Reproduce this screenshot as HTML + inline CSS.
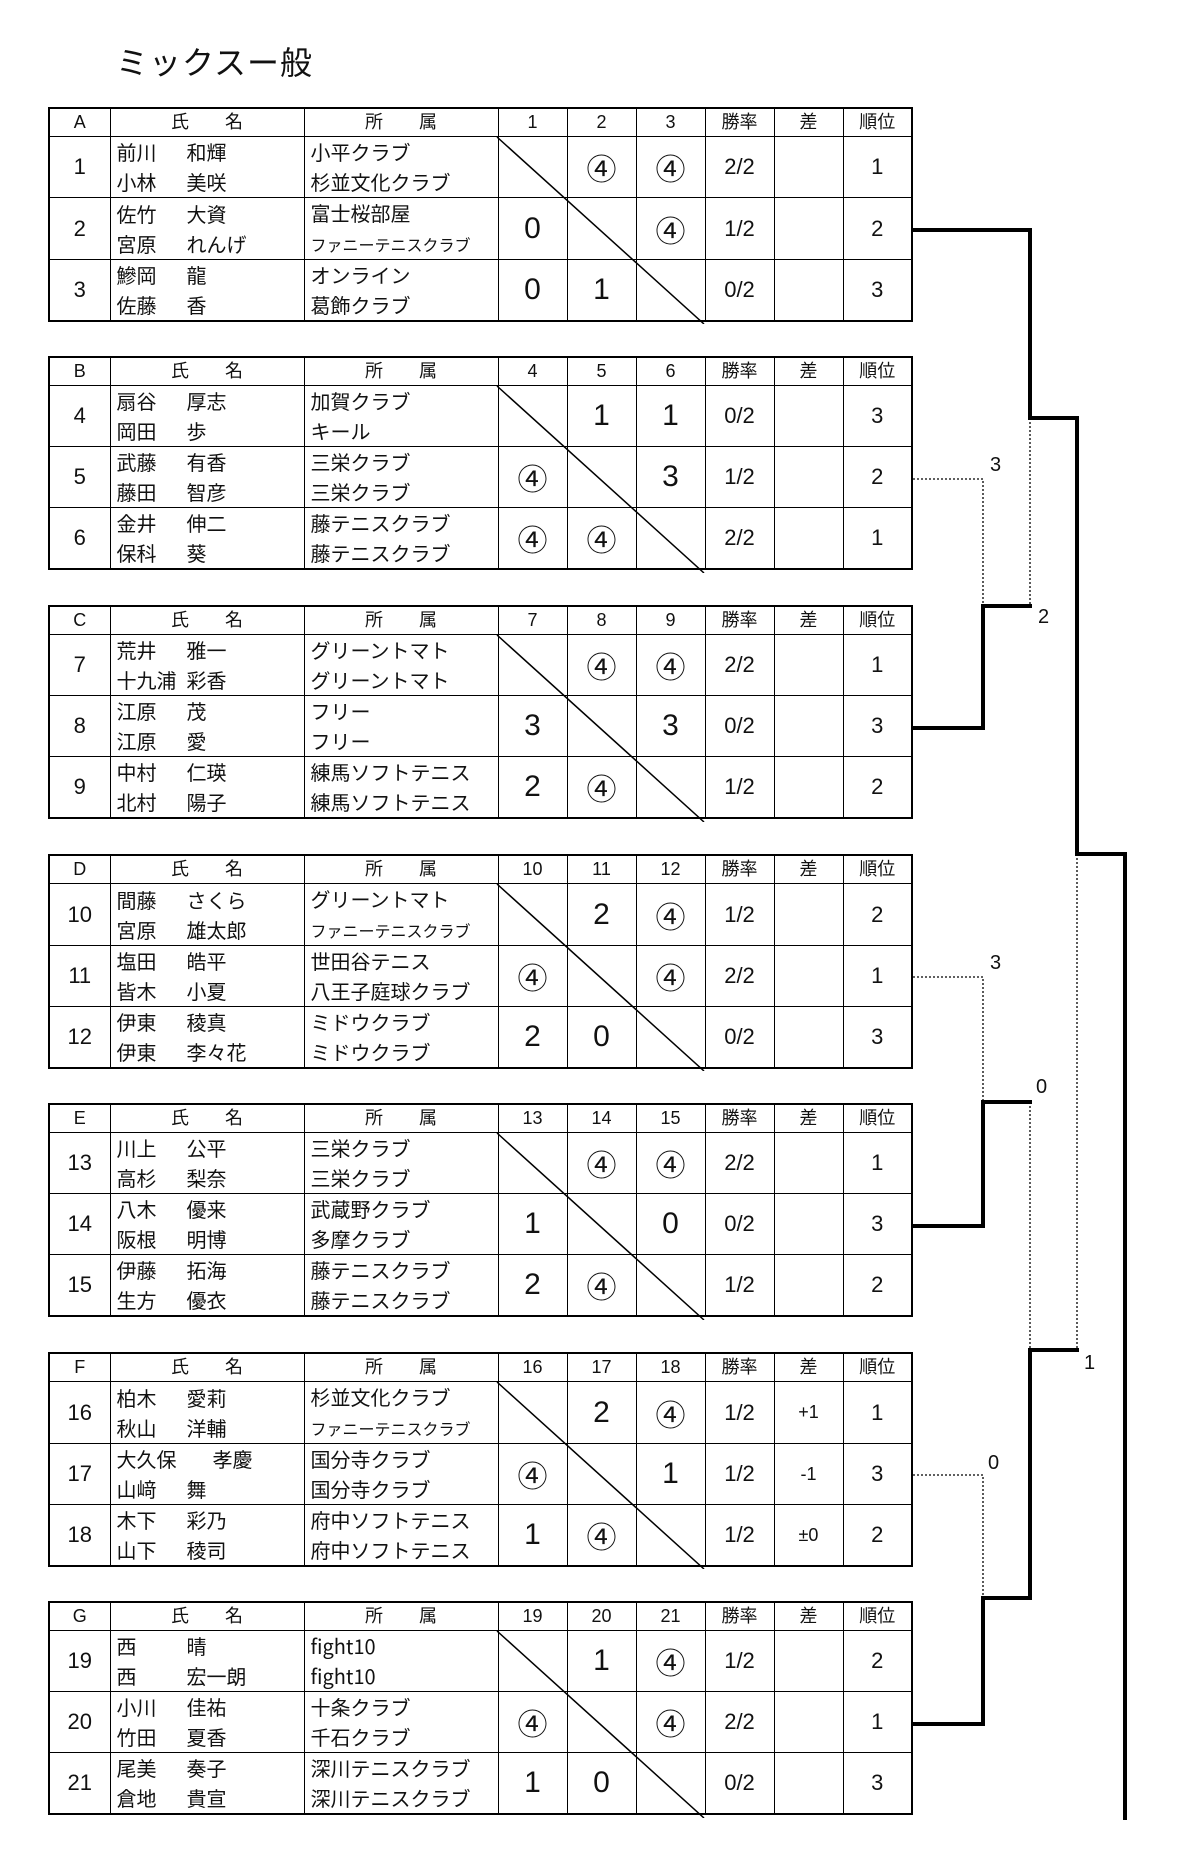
<!DOCTYPE html>
<html><head><meta charset="utf-8">
<style>
body{margin:0;background:#fff;width:1200px;height:1872px;position:relative;overflow:hidden;font-family:"Liberation Sans","Noto Sans CJK JP",sans-serif;color:#111}
.title{position:absolute;left:116px;top:38px;font-size:32px;letter-spacing:1px;font-family:"Noto Sans CJK JP",sans-serif}
.tb{position:absolute;left:48px;width:763px;height:217px}
table{border-collapse:collapse;table-layout:fixed;width:763px;border:2px solid #000}
td{border:1.5px solid #000;padding:0;text-align:center;font-size:22px;font-family:"Liberation Sans","Noto Sans CJK JP",sans-serif;overflow:hidden;white-space:nowrap}
tr.h td{height:27px;font-size:18px;line-height:27px}
tr.r td{height:58px}
td.n{text-align:left;padding-left:6px;line-height:30px;font-size:20px;font-family:"Noto Sans CJK JP",sans-serif}
td.n span{display:inline-block;min-width:70px}
td.a{text-align:left;padding-left:6px;line-height:30px;font-size:20px;font-family:"Noto Sans CJK JP",sans-serif}
.sm{font-size:16px}
.c{font-size:30px;font-family:"Noto Sans CJK JP",sans-serif;line-height:30px}
.d{font-size:30px}
.tb svg{position:absolute;left:0;top:0}
.lbl{position:absolute;font-size:20px}
</style></head><body>
<div class="title">ミックスー般</div>

<!-- A -->
<div class="tb" style="top:107px"><table>
<colgroup><col style="width:61px"><col style="width:194px"><col style="width:194px"><col style="width:69px"><col style="width:69px"><col style="width:69px"><col style="width:69px"><col style="width:69px"><col style="width:69px"></colgroup>
<tr class="h"><td>A</td><td>氏　　名</td><td>所　　属</td><td>1</td><td>2</td><td>3</td><td>勝率</td><td>差</td><td>順位</td></tr>
<tr class="r"><td>1</td><td class="n"><span>前川</span>和輝<br><span>小林</span>美咲</td><td class="a">小平クラブ<br>杉並文化クラブ</td><td></td><td class="c">④</td><td class="c">④</td><td>2/2</td><td></td><td>1</td></tr>
<tr class="r"><td>2</td><td class="n"><span>佐竹</span>大資<br><span>宮原</span>れんげ</td><td class="a">富士桜部屋<br><span class="sm">ファニーテニスクラブ</span></td><td class="d">0</td><td></td><td class="c">④</td><td>1/2</td><td></td><td>2</td></tr>
<tr class="r"><td>3</td><td class="n"><span>鰺岡</span>龍<br><span>佐藤</span>香</td><td class="a">オンライン<br>葛飾クラブ</td><td class="d">0</td><td class="d">1</td><td></td><td>0/2</td><td></td><td>3</td></tr>
</table><svg width="763" height="217"><line x1="449" y1="30" x2="656" y2="217" stroke="#000" stroke-width="1.5"/></svg></div>

<!-- B -->
<div class="tb" style="top:356px"><table>
<colgroup><col style="width:61px"><col style="width:194px"><col style="width:194px"><col style="width:69px"><col style="width:69px"><col style="width:69px"><col style="width:69px"><col style="width:69px"><col style="width:69px"></colgroup>
<tr class="h"><td>B</td><td>氏　　名</td><td>所　　属</td><td>4</td><td>5</td><td>6</td><td>勝率</td><td>差</td><td>順位</td></tr>
<tr class="r"><td>4</td><td class="n"><span>扇谷</span>厚志<br><span>岡田</span>歩</td><td class="a">加賀クラブ<br>キール</td><td></td><td class="d">1</td><td class="d">1</td><td>0/2</td><td></td><td>3</td></tr>
<tr class="r"><td>5</td><td class="n"><span>武藤</span>有香<br><span>藤田</span>智彦</td><td class="a">三栄クラブ<br>三栄クラブ</td><td class="c">④</td><td></td><td class="d">3</td><td>1/2</td><td></td><td>2</td></tr>
<tr class="r"><td>6</td><td class="n"><span>金井</span>伸二<br><span>保科</span>葵</td><td class="a">藤テニスクラブ<br>藤テニスクラブ</td><td class="c">④</td><td class="c">④</td><td></td><td>2/2</td><td></td><td>1</td></tr>
</table><svg width="763" height="217"><line x1="449" y1="30" x2="656" y2="217" stroke="#000" stroke-width="1.5"/></svg></div>

<!-- C -->
<div class="tb" style="top:605px"><table>
<colgroup><col style="width:61px"><col style="width:194px"><col style="width:194px"><col style="width:69px"><col style="width:69px"><col style="width:69px"><col style="width:69px"><col style="width:69px"><col style="width:69px"></colgroup>
<tr class="h"><td>C</td><td>氏　　名</td><td>所　　属</td><td>7</td><td>8</td><td>9</td><td>勝率</td><td>差</td><td>順位</td></tr>
<tr class="r"><td>7</td><td class="n"><span>荒井</span>雅一<br><span>十九浦</span>彩香</td><td class="a">グリーントマト<br>グリーントマト</td><td></td><td class="c">④</td><td class="c">④</td><td>2/2</td><td></td><td>1</td></tr>
<tr class="r"><td>8</td><td class="n"><span>江原</span>茂<br><span>江原</span>愛</td><td class="a">フリー<br>フリー</td><td class="d">3</td><td></td><td class="d">3</td><td>0/2</td><td></td><td>3</td></tr>
<tr class="r"><td>9</td><td class="n"><span>中村</span>仁瑛<br><span>北村</span>陽子</td><td class="a">練馬ソフトテニス<br>練馬ソフトテニス</td><td class="d">2</td><td class="c">④</td><td></td><td>1/2</td><td></td><td>2</td></tr>
</table><svg width="763" height="217"><line x1="449" y1="30" x2="656" y2="217" stroke="#000" stroke-width="1.5"/></svg></div>

<!-- D -->
<div class="tb" style="top:854px"><table>
<colgroup><col style="width:61px"><col style="width:194px"><col style="width:194px"><col style="width:69px"><col style="width:69px"><col style="width:69px"><col style="width:69px"><col style="width:69px"><col style="width:69px"></colgroup>
<tr class="h"><td>D</td><td>氏　　名</td><td>所　　属</td><td>10</td><td>11</td><td>12</td><td>勝率</td><td>差</td><td>順位</td></tr>
<tr class="r"><td>10</td><td class="n"><span>間藤</span>さくら<br><span>宮原</span>雄太郎</td><td class="a">グリーントマト<br><span class="sm">ファニーテニスクラブ</span></td><td></td><td class="d">2</td><td class="c">④</td><td>1/2</td><td></td><td>2</td></tr>
<tr class="r"><td>11</td><td class="n"><span>塩田</span>皓平<br><span>皆木</span>小夏</td><td class="a">世田谷テニス<br>八王子庭球クラブ</td><td class="c">④</td><td></td><td class="c">④</td><td>2/2</td><td></td><td>1</td></tr>
<tr class="r"><td>12</td><td class="n"><span>伊東</span>稜真<br><span>伊東</span>李々花</td><td class="a">ミドウクラブ<br>ミドウクラブ</td><td class="d">2</td><td class="d">0</td><td></td><td>0/2</td><td></td><td>3</td></tr>
</table><svg width="763" height="217"><line x1="449" y1="30" x2="656" y2="217" stroke="#000" stroke-width="1.5"/></svg></div>

<!-- E -->
<div class="tb" style="top:1103px"><table>
<colgroup><col style="width:61px"><col style="width:194px"><col style="width:194px"><col style="width:69px"><col style="width:69px"><col style="width:69px"><col style="width:69px"><col style="width:69px"><col style="width:69px"></colgroup>
<tr class="h"><td>E</td><td>氏　　名</td><td>所　　属</td><td>13</td><td>14</td><td>15</td><td>勝率</td><td>差</td><td>順位</td></tr>
<tr class="r"><td>13</td><td class="n"><span>川上</span>公平<br><span>高杉</span>梨奈</td><td class="a">三栄クラブ<br>三栄クラブ</td><td></td><td class="c">④</td><td class="c">④</td><td>2/2</td><td></td><td>1</td></tr>
<tr class="r"><td>14</td><td class="n"><span>八木</span>優来<br><span>阪根</span>明博</td><td class="a">武蔵野クラブ<br>多摩クラブ</td><td class="d">1</td><td></td><td class="d">0</td><td>0/2</td><td></td><td>3</td></tr>
<tr class="r"><td>15</td><td class="n"><span>伊藤</span>拓海<br><span>生方</span>優衣</td><td class="a">藤テニスクラブ<br>藤テニスクラブ</td><td class="d">2</td><td class="c">④</td><td></td><td>1/2</td><td></td><td>2</td></tr>
</table><svg width="763" height="217"><line x1="449" y1="30" x2="656" y2="217" stroke="#000" stroke-width="1.5"/></svg></div>

<!-- F -->
<div class="tb" style="top:1352px"><table>
<colgroup><col style="width:61px"><col style="width:194px"><col style="width:194px"><col style="width:69px"><col style="width:69px"><col style="width:69px"><col style="width:69px"><col style="width:69px"><col style="width:69px"></colgroup>
<tr class="h"><td>F</td><td>氏　　名</td><td>所　　属</td><td>16</td><td>17</td><td>18</td><td>勝率</td><td>差</td><td>順位</td></tr>
<tr class="r"><td>16</td><td class="n"><span>柏木</span>愛莉<br><span>秋山</span>洋輔</td><td class="a">杉並文化クラブ<br><span class="sm">ファニーテニスクラブ</span></td><td></td><td class="d">2</td><td class="c">④</td><td>1/2</td><td style="font-size:18px">+1</td><td>1</td></tr>
<tr class="r"><td>17</td><td class="n"><span style="min-width:96px">大久保</span>孝慶<br><span>山﨑</span>舞</td><td class="a">国分寺クラブ<br>国分寺クラブ</td><td class="c">④</td><td></td><td class="d">1</td><td>1/2</td><td style="font-size:18px">-1</td><td>3</td></tr>
<tr class="r"><td>18</td><td class="n"><span>木下</span>彩乃<br><span>山下</span>稜司</td><td class="a">府中ソフトテニス<br>府中ソフトテニス</td><td class="d">1</td><td class="c">④</td><td></td><td>1/2</td><td style="font-size:18px">±0</td><td>2</td></tr>
</table><svg width="763" height="217"><line x1="449" y1="30" x2="656" y2="217" stroke="#000" stroke-width="1.5"/></svg></div>

<!-- G -->
<div class="tb" style="top:1601px"><table>
<colgroup><col style="width:61px"><col style="width:194px"><col style="width:194px"><col style="width:69px"><col style="width:69px"><col style="width:69px"><col style="width:69px"><col style="width:69px"><col style="width:69px"></colgroup>
<tr class="h"><td>G</td><td>氏　　名</td><td>所　　属</td><td>19</td><td>20</td><td>21</td><td>勝率</td><td>差</td><td>順位</td></tr>
<tr class="r"><td>19</td><td class="n"><span>西</span>晴<br><span>西</span>宏一朗</td><td class="a">fight10<br>fight10</td><td></td><td class="d">1</td><td class="c">④</td><td>1/2</td><td></td><td>2</td></tr>
<tr class="r"><td>20</td><td class="n"><span>小川</span>佳祐<br><span>竹田</span>夏香</td><td class="a">十条クラブ<br>千石クラブ</td><td class="c">④</td><td></td><td class="c">④</td><td>2/2</td><td></td><td>1</td></tr>
<tr class="r"><td>21</td><td class="n"><span>尾美</span>奏子<br><span>倉地</span>貴宣</td><td class="a">深川テニスクラブ<br>深川テニスクラブ</td><td class="d">1</td><td class="d">0</td><td></td><td>0/2</td><td></td><td>3</td></tr>
</table><svg width="763" height="217"><line x1="449" y1="30" x2="656" y2="217" stroke="#000" stroke-width="1.5"/></svg></div>

<!-- bracket -->
<svg width="1200" height="1872" style="position:absolute;left:0;top:0">
<g fill="none" stroke="#000" stroke-width="4" stroke-linecap="square">
<polyline points="913,230 1030,230 1030,418 1077,418 1077,854 1125,854 1125,1818"/>
<polyline points="913,728 983,728 983,606 1030,606"/>
<polyline points="913,1226 983,1226 983,1102 1030,1102"/>
<polyline points="913,1724 983,1724 983,1598 1030,1598 1030,1350 1077,1350"/>
</g>
<g fill="none" stroke="#000" stroke-width="1.3" stroke-dasharray="2,2">
<polyline points="913,479 983,479 983,606"/>
<line x1="1030" y1="418" x2="1030" y2="606"/>
<polyline points="913,977 983,977 983,1102"/>
<line x1="1030" y1="1102" x2="1030" y2="1350"/>
<line x1="1077" y1="854" x2="1077" y2="1350"/>
<polyline points="913,1475 983,1475 983,1598"/>
</g>
</svg>
<div class="lbl" style="left:990px;top:454px">3</div>
<div class="lbl" style="left:1038px;top:606px">2</div>
<div class="lbl" style="left:990px;top:952px">3</div>
<div class="lbl" style="left:1036px;top:1076px">0</div>
<div class="lbl" style="left:1084px;top:1352px">1</div>
<div class="lbl" style="left:988px;top:1452px">0</div>
</body></html>
